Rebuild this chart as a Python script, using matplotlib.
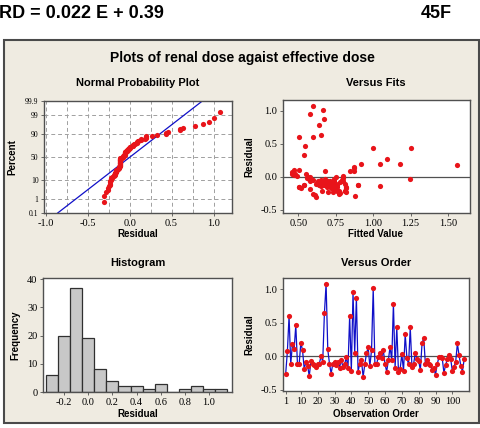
import numpy as np
import matplotlib
matplotlib.use("Agg")
import matplotlib.pyplot as plt
from matplotlib.patches import Rectangle
from statistics import NormalDist

# ---------------- data ----------------
residuals = [-0.26, 0.07, 0.60, -0.12, 0.18, 0.10, 0.46, -0.12, -0.12, 0.20,
             0.09, -0.19, -0.09, -0.14, -0.30, -0.07, -0.11, -0.13, -0.16, -0.11,
             -0.11, 0.00, -0.08, 0.64, 1.08, 0.10, -0.11, -0.26, -0.11, -0.08,
             -0.13, -0.08, -0.17, -0.06, -0.16, -0.12, -0.02, -0.18, 0.60, -0.22,
             0.95, 0.05, 0.87, -0.23, -0.11, -0.06, -0.31, -0.12, 0.04, 0.13,
             -0.15, 0.09, 1.01, -0.12, -0.12, -0.01, 0.04, -0.03, 0.09, -0.12,
             -0.23, -0.06, 0.14, -0.06, 0.78, -0.17, 0.43, -0.23, -0.19, 0.03,
             -0.22, 0.33, -0.03, -0.12, 0.43, -0.16, -0.11, 0.04, -0.05, -0.07,
             -0.21, 0.19, 0.27, -0.12, -0.06, -0.11, -0.13, -0.21, -0.17, -0.28,
             -0.12, -0.02, -0.01, -0.03, -0.25, -0.13, -0.05, 0.01, -0.04, -0.22,
             -0.16, -0.08, 0.19, 0.01, -0.14, -0.23, -0.05]
fitted = [0.60, 0.46, 0.504, 0.54, 1.56, 0.507, 0.544, 0.64, 0.66, 1.049,
          0.873, 0.576, 0.622, 1.049, 0.876, 0.70, 0.72, 0.74, 0.507, 0.68,
          0.63, 0.564, 0.67, 0.651, 0.598, 0.473, 0.75, 0.77, 0.81, 0.69,
          0.66, 0.78, 0.52, 0.71, 0.82, 0.90, 0.556, 0.73, 0.598, 0.76,
          0.576, 0.467, 0.673, 0.82, 0.635, 0.80, 0.618, 0.54, 0.48, 0.873,
          0.507, 0.843, 0.665, 0.65, 0.70, 0.75, 0.46, 1.248, 0.68, 0.73,
          0.775, 0.63, 0.87, 0.66, 0.638, 0.82, 1.00, 0.70, 0.755, 0.47,
          0.81, 0.538, 0.57, 0.90, 1.25, 0.69, 0.62, 0.55, 0.79, 0.74,
          0.77, 1.18, 1.093, 0.67, 0.58, 0.71, 0.645, 0.81, 0.72, 0.61,
          0.76, 0.80, 0.575, 0.68, 0.78, 0.70, 0.655, 0.80, 0.74, 0.66,
          0.76, 0.72, 0.918, 0.49, 0.65, 0.73, 0.60]
hist_centers = [-0.3, -0.2, -0.1, 0.0, 0.1, 0.2, 0.3, 0.4, 0.5, 0.6, 0.7, 0.8, 0.9, 1.0, 1.1]
hist_counts = [6, 20, 37, 19, 8, 4, 2, 2, 1, 3, 0, 1, 2, 1, 1]
pct_ticks = [0.1, 1, 10, 50, 90, 99, 99.9]
pct_grid = [1, 10, 50, 90, 99]

# ---------------- style ----------------
W, H = 480, 428
BG = "#EFEBE1"
RED = "#E8141A"
BLUE = "#1010C8"
TITLE_FONT = ["Liberation Sans", "DejaVu Sans"]
TICK_FONT = ["Liberation Serif", "DejaVu Serif"]

fig = plt.figure(figsize=(W / 100, H / 100), dpi=100)
fig.patch.set_facecolor("white")


def fx(px):
    return px / W


def fy(py):
    return 1 - py / H


def add_axes(l, t, r, b):
    return fig.add_axes([fx(l), fy(b), fx(r) - fx(l), fy(t) - fy(b)])


# outer frame
fig.patches.append(Rectangle((fx(4), fy(423)), fx(479) - fx(4), fy(40) - fy(423),
                             transform=fig.transFigure, facecolor=BG,
                             edgecolor="#4a4a4a", linewidth=1.5, zorder=-5))

fig.text(fx(-1), fy(14), "RD = 0.022 E + 0.39", fontsize=13, fontweight="bold",
         family=TITLE_FONT, ha="left", va="center")
fig.text(fx(421), fy(14), "45F", fontsize=13, fontweight="bold",
         family=TITLE_FONT, ha="left", va="center")
fig.text(fx(242), fy(58), "Plots of renal dose agaist effective dose", fontsize=10,
         fontweight="bold", family=TITLE_FONT, ha="center", va="center")


def style(ax, title, xlabel, ylabel, title_y, xlabel_y, ylabel_x, cx):
    ax.set_facecolor("white")
    for s in ax.spines.values():
        s.set_color("#505050")
        s.set_linewidth(1.0)
    ax.tick_params(labelsize=7.5, length=2.5, width=0.6, color="#505050", pad=1.5)
    for lab in ax.get_xticklabels() + ax.get_yticklabels():
        lab.set_family(TICK_FONT)
    fig.text(fx(cx), fy(title_y), title, fontsize=8, fontweight="bold",
             family=TITLE_FONT, ha="center", va="center")
    fig.text(fx(cx), fy(xlabel_y), xlabel, fontsize=7, fontweight="bold",
             family=TITLE_FONT, ha="center", va="center")
    ax.set_ylabel(ylabel, fontsize=7, fontweight="bold", family=TITLE_FONT)
    pos = ax.get_position()
    ax.yaxis.set_label_coords((fx(ylabel_x) - pos.x0) / pos.width, 0.5)


# ---------- Normal probability plot ----------
nd = NormalDist()
ax1 = add_axes(44, 101, 232, 213)
r = np.sort(np.array(residuals))
n = len(r)
probs = (np.arange(1, n + 1) - 0.3) / (n + 0.4)
zs = np.array([nd.inv_cdf(p) for p in probs])
mu, sd = r.mean(), r.std(ddof=1)
zlim = nd.inv_cdf(0.999)
ax1.set_ylim(-zlim, zlim)
ax1.set_xlim(-1.02, 1.22)
for g in np.arange(-1.0, 1.01, 0.25):
    ax1.axvline(g, color="#A0A0A0", ls=(0, (4, 3)), lw=0.7, zorder=0)
for p in pct_grid:
    ax1.axhline(nd.inv_cdf(p / 100), color="#A0A0A0", ls=(0, (4, 3)), lw=0.7, zorder=0)
zz = np.array([-zlim, zlim])
ax1.plot(mu + sd * zz, zz, color=BLUE, lw=0.9, zorder=2)
ax1.scatter(r, zs, s=14, color=RED, zorder=3, linewidths=0)
ax1.set_yticks([nd.inv_cdf(p / 100) for p in pct_ticks])
ax1.set_yticklabels([("%g" % p) for p in pct_ticks])
ax1.set_xticks([-1.0, -0.5, 0.0, 0.5, 1.0])
ax1.set_xticklabels(["-1.0", "-0.5", "0.0", "0.5", "1.0"])
style(ax1, "Normal Probability Plot", "Residual", "Percent", 83, 234, 17, 138)
for lab in ax1.get_yticklabels():
    lab.set_fontsize(5.5)

# ---------- Versus fits ----------
ax2 = add_axes(283, 100, 470, 213)
ax2.set_xlim(0.398, 1.647)
ax2.set_ylim(-0.552, 1.166)
ax2.axhline(0, color="#505050", lw=0.9, zorder=1)
ax2.scatter(fitted, residuals, s=14, color=RED, zorder=3, linewidths=0)
ax2.set_xticks([0.5, 0.75, 1.0, 1.25, 1.5])
ax2.set_xticklabels(["0.50", "0.75", "1.00", "1.25", "1.50"])
ax2.set_yticks([-0.5, 0.0, 0.5, 1.0])
ax2.set_yticklabels(["-0.5", "0.0", "0.5", "1.0"])
style(ax2, "Versus Fits", "Fitted Value", "Residual", 83, 234, 254, 376)

# ---------- Histogram ----------
ax3 = add_axes(43, 278, 232, 392)
ax3.set_xlim(-0.375, 1.19)
ax3.set_ylim(0, 40.4)
ax3.bar(hist_centers, hist_counts, width=0.1, color="#C8C8C8", edgecolor="#303030",
        linewidth=0.9, zorder=2)
ax3.set_xticks([-0.2, 0.0, 0.2, 0.4, 0.6, 0.8, 1.0])
ax3.set_xticklabels(["-0.2", "0.0", "0.2", "0.4", "0.6", "0.8", "1.0"])
ax3.set_yticks([0, 10, 20, 30, 40])
style(ax3, "Histogram", "Residual", "Frequency", 263, 414, 20, 138)

# ---------- Versus order ----------
ax4 = add_axes(283, 278, 469, 391)
obs = np.arange(1, len(residuals) + 1)
ax4.set_xlim(-0.6, 109.9)
ax4.set_ylim(-0.52, 1.166)
ax4.axhline(0, color="#505050", lw=0.9, zorder=1)
ax4.plot(obs, residuals, color=BLUE, lw=0.9, zorder=2)
ax4.scatter(obs, residuals, s=14, color=RED, zorder=3, linewidths=0)
ax4.set_xticks([1, 10, 20, 30, 40, 50, 60, 70, 80, 90, 100])
ax4.set_yticks([-0.5, 0.0, 0.5, 1.0])
ax4.set_yticklabels(["-0.5", "0.0", "0.5", "1.0"])
style(ax4, "Versus Order", "Observation Order", "Residual", 263, 414, 254, 376)

fig.savefig("out.png", dpi=100, facecolor=fig.get_facecolor())
